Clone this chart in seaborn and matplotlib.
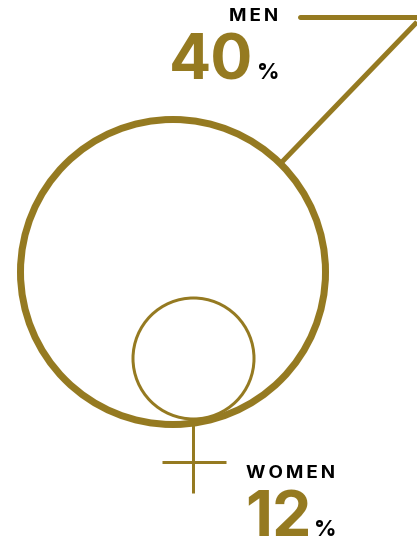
import matplotlib
matplotlib.use("Agg")
import matplotlib.pyplot as plt
import seaborn as sns
from matplotlib.patches import Circle

# data
categories = ["MEN", "WOMEN"]
values = [40, 12]
unit = "%"

GOLD = "#957A21"
PX = 72 / 100  # points per pixel at dpi 100
SP = "\u2009"  # letter spacing

sns.set_theme(style="white")
plt.rcParams['font.family'] = ['Inter', 'DejaVu Sans']

fig = plt.figure(figsize=(4.17, 5.40), dpi=100)
ax = fig.add_axes([0, 0, 1, 1])
ax.set_xlim(0, 417)
ax.set_ylim(540, 0)
ax.set_aspect("equal")
ax.axis("off")

# male symbol: big circle + arrow
ax.add_patch(Circle((173, 272), 152.5, fill=False, ec=GOLD, lw=7 * PX))
ax.plot([282, 417], [162, 22], color=GOLD, lw=5 * PX, solid_capstyle="butt")
ax.plot([300, 417], [17, 17], color=GOLD, lw=5 * PX, solid_capstyle="round")

# female symbol: small circle + cross
ax.add_patch(Circle((193.5, 358.5), 60.5, fill=False, ec=GOLD, lw=3 * PX))
ax.plot([193, 193], [419, 493], color=GOLD, lw=3 * PX, solid_capstyle="butt")
ax.plot([162, 226], [462, 462], color=GOLD, lw=3 * PX, solid_capstyle="butt")

def spaced(s):
    return SP.join(s)

# labels
ax.text(278, 21, spaced(categories[0]), ha="right", va="baseline", fontsize=13.5,
        fontweight="bold", color="black")
ax.text(169, 80, f"{values[0]}", ha="left", va="baseline", fontsize=45,
        fontweight="bold", color=GOLD)
ax.text(257, 79, unit, ha="left", va="baseline", fontsize=16,
        fontweight="bold", color="black")

ax.text(246, 478, spaced(categories[1]), ha="left", va="baseline", fontsize=13.5,
        fontweight="bold", color="black")
ax.text(245, 536, f"{values[1]}", ha="left", va="baseline", fontsize=45,
        fontweight="bold", color=GOLD)
ax.text(314, 536, unit, ha="left", va="baseline", fontsize=16,
        fontweight="bold", color="black")

fig.savefig("out.png", dpi=100, facecolor="white")
